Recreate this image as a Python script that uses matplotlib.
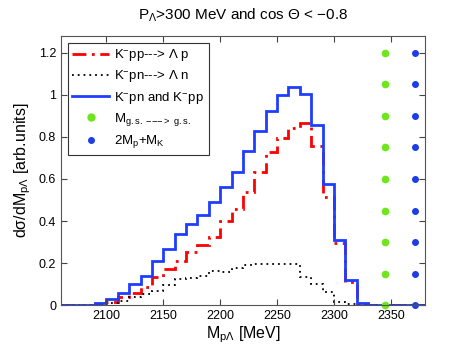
import numpy as np
import matplotlib.pyplot as plt
from matplotlib.lines import Line2D

plt.rcParams['font.family'] = ['Liberation Sans', 'DejaVu Sans']
plt.rcParams['mathtext.fontset'] = 'custom'
plt.rcParams['mathtext.rm'] = 'Liberation Sans'
plt.rcParams['mathtext.it'] = 'Liberation Sans'

# bin edges, 10 MeV bins
edges = np.arange(2060, 2390, 10)

# K-pp --> Lambda p
lam_p = [0, 0, 0, 0.005, 0.016, 0.037, 0.059, 0.086, 0.134, 0.171, 0.212, 0.255,
         0.287, 0.324, 0.398, 0.457, 0.539, 0.632, 0.729, 0.797, 0.842, 0.864,
         0.755, 0.515, 0.295, 0.109, 0.005, 0, 0, 0, 0, 0]
# K-pn --> Lambda n
lam_n = [0, 0, 0, 0.003, 0.011, 0.02, 0.04, 0.053, 0.068, 0.094, 0.123, 0.129,
         0.14, 0.161, 0.16, 0.175, 0.193, 0.195, 0.198, 0.195, 0.195, 0.134,
         0.1, 0.061, 0.016, 0.008, 0, 0, 0, 0, 0, 0]
# K-pn and K-pp
total = [0, 0, 0, 0.01, 0.03, 0.059, 0.103, 0.141, 0.209, 0.269, 0.336, 0.385,
         0.431, 0.49, 0.56, 0.633, 0.735, 0.829, 0.923, 0.997, 1.038, 1.002,
         0.857, 0.575, 0.311, 0.12, 0.011, 0, 0, 0, 0, 0]

dot_y = [0, 0.15, 0.3, 0.45, 0.6, 0.75, 0.9, 1.05, 1.2]
m_gs = 2345
m_thr = 2371

fig = plt.figure(figsize=(4.69, 3.52), dpi=100)
ax = fig.add_axes([0.130, 0.133, 0.776, 0.765])

ax.stairs(lam_p, edges, color='#ff0000', lw=2, linestyle=(0, (5, 2, 1, 2)), baseline=None)
ax.stairs(lam_n, edges, color='black', lw=1.3, linestyle=(0, (1, 2.2)), baseline=None)
ax.stairs(total, edges, color='#1f3dff', lw=2, baseline=None)
ax.plot([m_gs] * len(dot_y), dot_y, 'o', color='#6ee51c', ms=4.5, clip_on=False)
ax.plot([m_thr] * len(dot_y), dot_y, 'o', color='#1f3de6', ms=4, clip_on=False)

ax.set_xlim(2060, 2380)
ax.set_ylim(0, 1.28)
ax.set_xticks([2100, 2150, 2200, 2250, 2300, 2350])
ax.set_yticks([0, 0.2, 0.4, 0.6, 0.8, 1, 1.2])
ax.set_yticklabels(['0', '0.2', '0.4', '0.6', '0.8', '1', '1.2'])
ax.tick_params(direction='in', top=True, right=True, labelsize=9, length=4,
               color='#444444')
for s in ax.spines.values():
    s.set_color('#555555')

ax.set_title('P$_\\Lambda$>300 MeV and cos \u0398 < \u22120.8', fontsize=11, pad=12)
ax.set_xlabel('M$_{p\\Lambda}$ [MeV]', fontsize=11.5, labelpad=2)
ax.set_ylabel('d\u03c3/dM$_{p\\Lambda}$ [arb.units]', fontsize=11.5, labelpad=4)

handles = [
    Line2D([], [], color='#ff0000', lw=2, linestyle=(0, (5, 2, 1, 2))),
    Line2D([], [], color='black', lw=1.3, linestyle=(0, (1, 2.2))),
    Line2D([], [], color='#1f3dff', lw=2),
    Line2D([], [], color='#6ee51c', marker='o', ms=5, linestyle='none'),
    Line2D([], [], color='#1f3de6', marker='o', ms=4, linestyle='none'),
]
labels = ['K$^{-}$pp---> \u039b p', 'K$^{-}$pn---> \u039b n', 'K$^{-}$pn and K$^{-}$pp',
          'M$_{\\mathrm{g.s.}\\ {-}{-}{-}{>}\\ \\mathrm{g.s.}}$', '2M$_p$+M$_K$']
leg = ax.legend(handles, labels, loc='upper left', fontsize=9.5, fancybox=False,
                edgecolor='#333333', framealpha=1, handlelength=2.8,
                labelspacing=0.4, borderaxespad=0.5, handletextpad=0.4,
                borderpad=0.35)
leg.get_frame().set_linewidth(0.8)

fig.savefig('out.png', dpi=100)
